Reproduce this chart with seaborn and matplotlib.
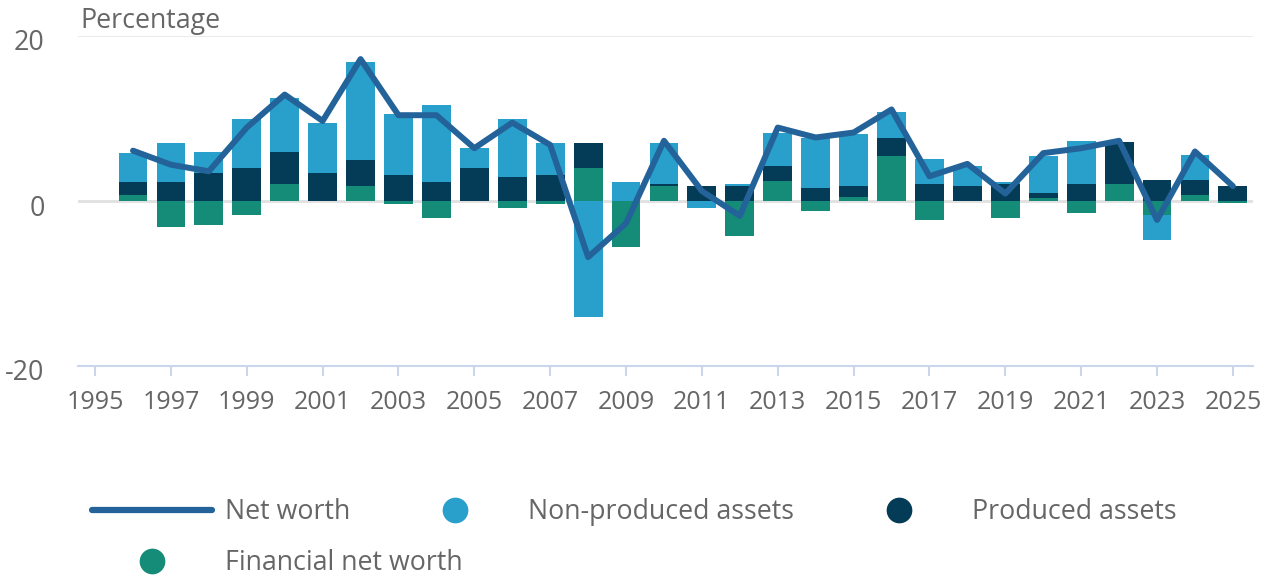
import numpy as np
import matplotlib
matplotlib.use("Agg")
import matplotlib.pyplot as plt
import matplotlib.transforms as mtransforms
from matplotlib.lines import Line2D
import seaborn as sns

# ---------------- data ----------------
years = list(range(1996, 2026))
non_produced = [3.6, 4.7, 2.5, 6.0, 6.6, 6.1, 11.9, 7.4, 9.3, 2.4,
                7.15, 3.8, -14.0, 2.3, 4.95, -0.9, 0.28, 4.0, 6.05, 6.3,
                3.2, 3.0, 2.5, 0.3, 4.4, 5.2, 0.0, -3.0, 3.0, 0.0]
produced = [1.55, 2.3, 3.4, 4.0, 3.85, 3.4, 3.15, 3.2, 2.3, 4.0,
            2.85, 3.2, 3.0, 0.0, 0.25, 1.8, 1.8, 1.9, 1.55, 1.35,
            2.2, 2.1, 1.8, 2.05, 0.6, 2.1, 5.15, 2.6, 1.9, 1.8]
financial = [0.7, -3.1, -2.85, -1.75, 2.05, 0.0, 1.8, -0.35, -2.0, 0.0,
             -0.9, -0.35, 4.0, -5.6, 1.8, 0.0, -4.2, 2.4, -1.2, 0.45,
             5.4, -2.3, 0.0, -2.0, 0.4, -1.4, 2.05, -1.7, 0.7, -0.3]
net_worth = [6.1, 4.4, 3.6, 8.9, 12.9, 9.7, 17.2, 10.4, 10.4, 6.4,
             9.5, 6.8, -6.8, -2.7, 7.3, 1.2, -1.8, 8.9, 7.7, 8.3,
             11.1, 3.0, 4.5, 0.9, 5.8, 6.4, 7.3, -2.3, 6.0, 1.8]
x_ticks = list(range(1995, 2026, 2))
y_ticks = [-20, 0, 20]
labels = ["Net worth", "Non-produced assets", "Produced assets", "Financial net worth"]
axis_title = "Percentage"

c_line = "#23639a"
c_non = "#28a0cb"
c_prod = "#043b56"
c_fin = "#148c78"
c_text = "#666666"

sns.set_theme(style="white")
plt.rcParams['font.family'] = ['Open Sans', 'DejaVu Sans']

W, H = 1270, 577
fig = plt.figure(figsize=(W / 100, H / 100), dpi=100)
ax = fig.add_axes([78 / W, 1 - 366 / H, (1253 - 78) / W, (366 - 36) / H])

fin = np.array(financial)
prod = np.array(produced)
non = np.array(non_produced)
pos = lambda a: np.clip(a, 0, None)
neg = lambda a: np.clip(a, None, 0)

layers = [
    (pos(fin) + pos(prod) + pos(non), c_non),
    (pos(fin) + pos(prod), c_prod),
    (pos(fin), c_fin),
    (neg(fin) + neg(prod) + neg(non), c_non),
    (neg(fin) + neg(prod), c_prod),
    (neg(fin), c_fin),
]
for vals, col in layers:
    sns.barplot(x=years, y=vals, native_scale=True, color=col, saturation=1,
                width=0.76, linewidth=0, errorbar=None, ax=ax)

sns.lineplot(x=years, y=net_worth, color=c_line, linewidth=4.3, ax=ax,
             legend=False, zorder=5)

ax.set_xlim(1994.55, 2025.53)
ax.set_ylim(-20, 20)
ax.set_xticks(x_ticks)
ax.set_xticklabels([str(t) for t in x_ticks])
ax.set_yticks(y_ticks)
ax.set_yticklabels([str(t) for t in y_ticks])
ax.set_xlabel("")
ax.set_ylabel("")

for s in ["top", "right", "left"]:
    ax.spines[s].set_visible(False)
ax.spines["bottom"].set_color("#ccd6eb")
ax.spines["bottom"].set_linewidth(1.5)

ax.grid(False)
ax.axhline(20, color="#e6e6e6", linewidth=1.2, zorder=0)
ax.axhline(0, color="#e0e0e0", linewidth=2, zorder=0.5)

fs_tick = 18
fs = 19.3
ax.tick_params(axis="x", colors="#ccd6eb", labelcolor=c_text, length=7.5,
               width=1.5, labelsize=fs_tick, pad=10, bottom=True)
ax.tick_params(axis="y", length=0, labelcolor=c_text, labelsize=fs, pad=24)
off = mtransforms.ScaledTranslation(0, -4 / 100, fig.dpi_scale_trans)
for lab in ax.get_yticklabels():
    lab.set_transform(lab.get_transform() + off)

fig.text(80 / W, 1 - 28 / H, axis_title, color=c_text, fontsize=fs,
         ha="left", va="baseline")

fs_px = fs * 100 / 72
h1 = [Line2D([], [], color=c_line, lw=4.5),
      Line2D([], [], marker="o", ls="", color=c_non, markersize=17.5),
      Line2D([], [], marker="o", ls="", color=c_prod, markersize=17.5)]
fig.legend(h1, labels[:3], loc="center left",
           bbox_to_anchor=(92 / W, 1 - 512 / H), bbox_transform=fig.transFigure,
           ncol=3, frameon=False, fontsize=fs, labelcolor=c_text,
           handlelength=120 / fs_px, handletextpad=13 / fs_px,
           columnspacing=45 / fs_px, borderpad=0, borderaxespad=0)
h2 = [Line2D([], [], marker="o", ls="", color=c_fin, markersize=17.5)]
fig.legend(h2, labels[3:], loc="center left",
           bbox_to_anchor=(92 / W, 1 - 563 / H), bbox_transform=fig.transFigure,
           ncol=1, frameon=False, fontsize=fs, labelcolor=c_text,
           handlelength=120 / fs_px, handletextpad=13 / fs_px,
           borderpad=0, borderaxespad=0)

fig.savefig("out.png", dpi=100, facecolor="white")
